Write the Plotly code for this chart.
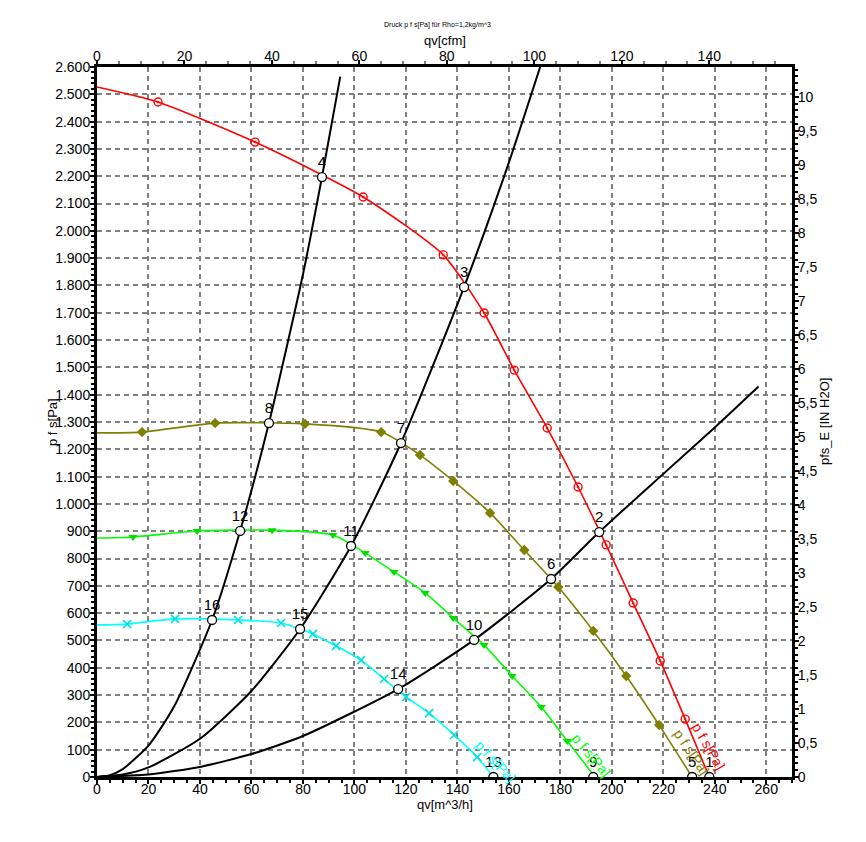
import plotly.graph_objects as go

# ---------------- data ----------------
# fan curves p_fs [Pa] vs qv [m^3/h]
red_x = [0, 23.7, 61.4, 103.4, 134.5, 150.4, 162.1, 174.9, 186.9, 197.8, 208.3, 218.8, 228.5, 237.9]
red_y = [2527, 2472, 2325, 2124, 1912, 1699, 1490, 1278, 1062, 850, 637, 425, 212, 0]

olive_x = [0, 17.5, 45.9, 80.8, 110.4, 125.5, 138.4, 152.7, 166.0, 179.2, 192.8, 205.6, 218.4, 231.2]
olive_y = [1260, 1263, 1296, 1293, 1263, 1179, 1084, 967, 831, 696, 535, 370, 190, 0]

green_x = [0, 14.0, 38.9, 68.0, 91.7, 104.2, 115.4, 127.5, 138.4, 150.4, 161.3, 172.6, 182.7, 193.5]
green_y = [875, 879, 901, 904, 886, 820, 751, 674, 582, 483, 370, 256, 132, 0]

cyan_x = [0, 11.7, 30.3, 54.8, 71.5, 83.9, 92.9, 102.6, 111.5, 120.1, 129.0, 138.7, 147.7, 154.0]
cyan_y = [557, 560, 579, 575, 564, 524, 480, 428, 359, 293, 234, 154, 73, 0]

# system curves
sysA_x = [0, 5, 10, 20, 30, 44.7, 55.6, 66.8, 80, 87.4, 94.5]
sysA_y = [0, 7, 29, 115, 259, 575, 901, 1296, 1840, 2197, 2565]
sysB_x = [0, 10, 20, 40, 60, 78.9, 98.7, 118.1, 142.6, 160, 172.5]
sysB_y = [0, 9, 35, 140, 315, 542, 846, 1223, 1794, 2250, 2610]
sysC_x = [0, 20, 40, 60, 80, 117, 146.5, 176.4, 195.1, 220, 240, 257]
sysC_y = [0, 9, 37, 84, 150, 322, 502, 725, 897, 1110, 1280, 1430]

# operating points
op_x = [237.9, 195.1, 142.6, 87.4, 231.2, 176.4, 118.1, 66.8, 192.8, 146.5, 98.7, 55.6, 154.0, 117.0, 78.9, 44.7]
op_y = [0, 897, 1794, 2197, 0, 725, 1223, 1296, 0, 502, 846, 901, 0, 322, 542, 575]
op_lbl = [str(i) for i in range(1, 17)]

# axis ticks
pa_ticks = list(range(0, 2601, 100))
pa_text = [str(v) if v < 1000 else "{}.{:03d}".format(v // 1000, v % 1000) for v in pa_ticks]
m3h_ticks = list(range(0, 261, 20))
cfm_ticks = list(range(0, 141, 20))
inh2o_ticks = [i * 0.5 for i in range(0, 21)]
inh2o_text = [("{:g}".format(v)).replace(".", ",") for v in inh2o_ticks]

X_MAX = 270
Y_MAX = 2600
CFM_MAX = X_MAX / 1.699
INH2O_MAX = Y_MAX / 249.09

FONT = "Arial, Liberation Sans, sans-serif"

fig = go.Figure()

curves = [
    (red_x, red_y, "#FF0000", dict(symbol="circle-open-dot", size=8, color="#FF0000", line=dict(width=1.4, color="#FF0000"))),
    (olive_x, olive_y, "#808000", dict(symbol="diamond", size=8, color="#808000")),
    (green_x, green_y, "#00FF00", dict(symbol="triangle-down", size=8, color="#00E000")),
    (cyan_x, cyan_y, "#00FFFF", dict(symbol="x-thin-open", size=8, color="#00E0E0", line=dict(width=1.6, color="#00E0E0"))),
]
for xs, ys, col, mk in curves:
    fig.add_trace(go.Scatter(x=xs, y=ys, mode="lines", line=dict(color=col, width=1.6, shape="spline", smoothing=0.6),
                             hoverinfo="skip", showlegend=False))
    fig.add_trace(go.Scatter(x=xs[1:-1], y=ys[1:-1], mode="markers", marker=mk, hoverinfo="skip", showlegend=False))

for xs, ys in [(sysA_x, sysA_y), (sysB_x, sysB_y), (sysC_x, sysC_y)]:
    fig.add_trace(go.Scatter(x=xs, y=ys, mode="lines", line=dict(color="black", width=2, shape="spline", smoothing=0.6),
                             hoverinfo="skip", showlegend=False))

fig.add_trace(go.Scatter(x=op_x, y=op_y, mode="markers+text", text=op_lbl, textposition="top center",
                         textfont=dict(family=FONT, size=15, color="black"),
                         marker=dict(symbol="circle", size=9, color="white", line=dict(color="black", width=1.3)),
                         hoverinfo="skip", showlegend=False))

# dummy trace for secondary axes
fig.add_trace(go.Scatter(x=[0], y=[0], xaxis="x2", yaxis="y2", mode="markers", marker=dict(opacity=0),
                         hoverinfo="skip", showlegend=False))

axis_common = dict(showline=True, linecolor="black", linewidth=3, ticks="outside", ticklen=4, tickwidth=2,
                   tickcolor="black", tickfont=dict(family=FONT, size=14, color="black"), zeroline=False)
grid = dict(showgrid=True, gridcolor="#808080", gridwidth=1.5, griddash="5px,4px")

# page body has an 8px margin: shrink the figure so the plot area lands where the reference has it
fig.update_layout(
    width=850, height=826,
    margin=dict(l=89, r=66, t=59, b=57),
    paper_bgcolor="white", plot_bgcolor="white",
    xaxis=dict(range=[0, X_MAX], tickvals=m3h_ticks, ticklabelstandoff=-7, **axis_common, **grid,
               minor=dict(dtick=5, ticks="outside", ticklen=3, tickwidth=1.5, tickcolor="black", showgrid=False)),
    yaxis=dict(range=[0, Y_MAX], tickvals=pa_ticks, ticktext=pa_text, ticklabelstandoff=-3, **axis_common, **grid,
               minor=dict(dtick=20, ticks="outside", ticklen=3, tickwidth=1.5, tickcolor="black", showgrid=False)),
    xaxis2=dict(range=[0, CFM_MAX], tickvals=cfm_ticks, overlaying="x", side="top", anchor="y", showgrid=False,
                ticklabelstandoff=-7, **axis_common,
                minor=dict(dtick=5, ticks="outside", ticklen=3, tickwidth=1.5, tickcolor="#808080", showgrid=False)),
    yaxis2=dict(range=[0, INH2O_MAX], tickvals=inh2o_ticks, ticktext=inh2o_text, overlaying="y", side="right",
                anchor="x", showgrid=False, ticklabelstandoff=-4, **axis_common,
                minor=dict(dtick=0.1, ticks="outside", ticklen=3, tickwidth=1.5, tickcolor="black", showgrid=False)),
)

ann = [
    dict(text="Druck p f s[Pa] für Rho=1,2kg/m^3", x=0.49, y=1, yshift=42, font=dict(size=7)),
    dict(text="qv[cfm]", x=0.5, y=1, yshift=27, font=dict(size=13)),
    dict(text="qv[m^3/h]", x=0.5, y=0, yshift=-27, font=dict(size=13)),
    dict(text="p f s[Pa]", x=0, xshift=-45, y=0.5, textangle=-90, font=dict(size=13)),
    dict(text="pfs_E [IN H2O]", x=1, xshift=32, y=0.5, textangle=-90, font=dict(size=13)),
]
for a in ann:
    f = a.pop("font")
    fig.add_annotation(xref="paper", yref="paper", showarrow=False, xanchor="center", yanchor="middle",
                       font=dict(family=FONT, color="black", **f), **a)

curve_labels = [
    (237.5, 113, 60, "#FF0000"),
    (231.0, 92, 56, "#808000"),
    (192.0, 81, 50, "#00FF00"),
    (154.7, 59, 47, "#00FFFF"),
]
for x, y, ang, col in curve_labels:
    fig.add_annotation(x=x, y=y, xref="x", yref="y", text="p f s[Pa]", showarrow=False, textangle=ang,
                       font=dict(family=FONT, size=14, color=col))

fig.write_html("out.html")
